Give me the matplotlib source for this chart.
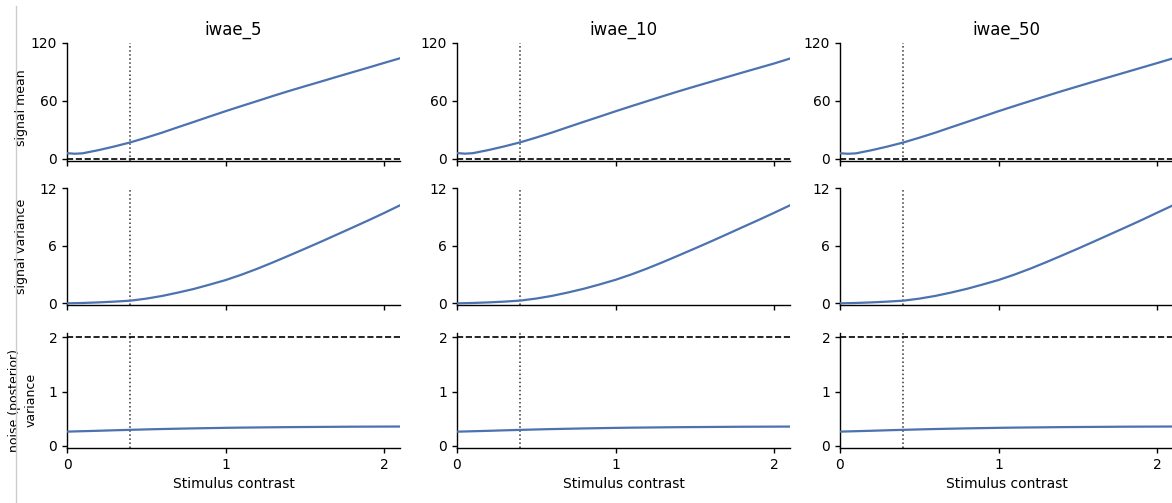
import matplotlib
matplotlib.use("Agg")
import matplotlib.pyplot as plt
from matplotlib.lines import Line2D

# Stimulus contrast grid
contrast = [0.0, 0.05, 0.1, 0.2, 0.3, 0.4, 0.5, 0.6, 0.7, 0.8, 0.9, 1.0, 1.1,
            1.2, 1.3, 1.4, 1.5, 1.6, 1.7, 1.8, 1.9, 2.0, 2.1]

models = ["iwae_5", "iwae_10", "iwae_50"]

signal_mean_iwae_5 = [5.9, 5.3, 5.8, 9.1, 12.9, 17.1, 22.0, 27.2, 32.8, 38.3, 43.9, 49.4,
                      54.7, 59.9, 65.2, 70.3, 75.2, 80.0, 84.9, 89.7, 94.5, 99.4, 104.2]
signal_mean_iwae_10 = [6.0, 5.4, 5.9, 9.2, 13.0, 17.2, 22.1, 27.3, 32.9, 38.4, 43.8, 49.3,
                       54.6, 59.8, 65.0, 70.1, 75.0, 79.8, 84.6, 89.4, 94.1, 98.8, 103.9]
signal_mean_iwae_50 = [5.8, 5.3, 5.7, 9.0, 12.8, 17.0, 21.9, 27.1, 32.7, 38.2, 43.8, 49.4,
                       54.7, 59.9, 65.1, 70.2, 75.1, 80.0, 84.8, 89.6, 94.4, 99.2, 104.1]

signal_var_iwae_5 = [0.0, 0.02, 0.04, 0.1, 0.18, 0.28, 0.49, 0.77, 1.12, 1.5, 1.95, 2.42,
                     2.98, 3.6, 4.27, 4.97, 5.68, 6.4, 7.14, 7.88, 8.63, 9.4, 10.2]
signal_var_iwae_10 = [0.0, 0.02, 0.04, 0.1, 0.18, 0.29, 0.5, 0.78, 1.13, 1.52, 1.97, 2.45,
                      3.01, 3.63, 4.3, 5.0, 5.71, 6.43, 7.17, 7.92, 8.66, 9.42, 10.2]
signal_var_iwae_50 = [0.0, 0.02, 0.04, 0.1, 0.18, 0.28, 0.49, 0.77, 1.12, 1.51, 1.96, 2.43,
                      2.99, 3.61, 4.28, 4.98, 5.69, 6.42, 7.16, 7.9, 8.65, 9.43, 10.2]

noise_var_iwae_5 = [0.262, 0.266, 0.270, 0.278, 0.287, 0.295, 0.303, 0.310, 0.316, 0.322, 0.327, 0.332,
                    0.336, 0.339, 0.342, 0.345, 0.347, 0.349, 0.351, 0.353, 0.354, 0.355, 0.356]
noise_var_iwae_10 = [0.261, 0.265, 0.269, 0.277, 0.286, 0.294, 0.302, 0.309, 0.315, 0.321, 0.326, 0.331,
                     0.335, 0.338, 0.341, 0.344, 0.346, 0.348, 0.350, 0.352, 0.353, 0.354, 0.355]
noise_var_iwae_50 = [0.262, 0.266, 0.270, 0.278, 0.287, 0.295, 0.303, 0.310, 0.316, 0.322, 0.327, 0.332,
                     0.336, 0.339, 0.342, 0.345, 0.347, 0.349, 0.351, 0.353, 0.354, 0.355, 0.356]

signal_mean = [signal_mean_iwae_5, signal_mean_iwae_10, signal_mean_iwae_50]
signal_var = [signal_var_iwae_5, signal_var_iwae_10, signal_var_iwae_50]
noise_var = [noise_var_iwae_5, noise_var_iwae_10, noise_var_iwae_50]

row_labels = ["signal mean", "signal variance", "noise (posterior)\nvariance"]
row_yticks = [[0, 60, 120], [0, 6, 12], [0, 1, 2]]
row_ylims = [(-2.2, 120), (-0.12, 12), (-0.04, 2.09)]
row_hlines = [0, None, 2]
xticks = [0, 1, 2]
contrast_marker = 0.4

W, H = 1172, 503
fig = plt.figure(figsize=(W / 100, H / 100), dpi=100)
plt.rcParams["font.family"] = "DejaVu Sans"

blue = "#4C72B0"

# panel geometry in pixels: (left, top, bottom)
col_left = [67, 457, 840]
ax_w = 333
row_box = [(43, 161), (188, 304.5), (332.5, 448)]
label_x = [-0.117, -0.117, -0.088]
label_y = [0.448, 0.5, 0.414]

for r in range(3):
    data_row = [signal_mean, signal_var, noise_var][r]
    top, bot = row_box[r]
    for c in range(3):
        ax = fig.add_axes([col_left[c] / W, 1 - bot / H, ax_w / W, (bot - top) / H])
        ax.plot(contrast, data_row[c], color=blue, lw=1.6, zorder=3)
        if row_hlines[r] is not None:
            ax.axhline(row_hlines[r], color="black", ls="--", lw=1.2, zorder=4)
        ax.axvline(contrast_marker, color="#333333", ls=":", lw=1.1, zorder=2)
        ax.set_xlim(0, 2.1)
        ax.set_ylim(*row_ylims[r])
        ax.set_yticks(row_yticks[r])
        ax.set_xticks(xticks)
        for s in ["top", "right"]:
            ax.spines[s].set_visible(False)
        for s in ["left", "bottom"]:
            ax.spines[s].set_linewidth(1.0)
        ax.tick_params(labelsize=10, length=3.5, width=1.0)
        if r < 2:
            ax.set_xticklabels([])
        else:
            ax.set_xlabel("Stimulus contrast", fontsize=10, labelpad=4)
        if r == 0:
            ax.set_title(models[c], fontsize=12, pad=6)
        if c == 0:
            ax.set_ylabel(row_labels[r], fontsize=9, linespacing=1.4)
            ax.yaxis.set_label_coords(label_x[r], label_y[r])

# thin separator on the left edge
fig.add_artist(Line2D([16 / W, 16 / W], [0, 1 - 6 / H], color="#cccccc", lw=1.0))

fig.savefig("out.png", dpi=100)
